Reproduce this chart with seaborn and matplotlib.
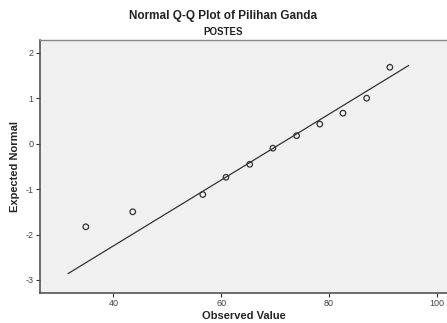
import matplotlib
matplotlib.use("Agg")
import matplotlib.pyplot as plt
import seaborn as sns
import pandas as pd

observed = [34.9, 43.6, 56.6, 60.9, 65.3, 69.6, 74.0, 78.3, 82.6, 87.0, 91.3]
expected = [-1.83, -1.50, -1.12, -0.74, -0.455, -0.10, 0.175, 0.43, 0.67, 1.00, 1.68]
line_x = [31.6, 94.8]
line_y = [-2.86, 1.72]
x_ticks = [40, 60, 80, 100]
y_ticks = [2, 1, 0, -1, -2, -3]

df = pd.DataFrame({"obs": observed, "exp": expected})
ldf = pd.DataFrame({"x": line_x, "y": line_y})

sns.set_theme(style="white")
plt.rcParams['font.family'] = ['Liberation Sans', 'DejaVu Sans']

fig = plt.figure(figsize=(4.47, 3.23), dpi=100)
fig.patch.set_facecolor("white")
ax = fig.add_axes([40/447, 1-292.7/323, 1-40/447, (292.7-40)/323])
ax.set_facecolor("#f0f0f0")

sns.lineplot(data=ldf, x="x", y="y", ax=ax, color="#333333", linewidth=0.9)
sns.scatterplot(data=df, x="obs", y="exp", ax=ax, marker="o", s=16,
                facecolor="none", edgecolor="#333333", linewidth=0.9)

ax.set_xlim(26.4, 101.9)
ax.set_ylim(-3.28, 2.28)
ax.set_xticks(x_ticks)
ax.set_yticks(y_ticks)
ax.set_xticklabels([str(t) for t in x_ticks], fontsize=6.5, color="#444444")
ax.set_yticklabels([str(t) for t in y_ticks], fontsize=6.5, color="#444444")
ax.tick_params(axis="both", length=3, width=0.8, color="#333333", pad=1.5, direction="out")
ax.tick_params(axis="x", bottom=True)
ax.tick_params(axis="y", left=True)

for side in ["left", "bottom"]:
    ax.spines[side].set_color("#555555")
    ax.spines[side].set_linewidth(1.2)
ax.spines["top"].set_color("#888888")
ax.spines["top"].set_linewidth(1.0)
ax.spines["right"].set_visible(False)

ax.set_xlabel("Observed Value", fontsize=8, fontweight="bold", labelpad=2)
ax.set_ylabel("Expected Normal", fontsize=8, fontweight="bold", labelpad=4)

fig.text(0.5, 1-16/323, "Normal Q-Q Plot of Pilihan Ganda", ha="center", va="center",
         fontsize=8.5, fontweight="bold", color="#222222")
fig.text(0.5, 1-32/323, "POSTES", ha="center", va="center",
         fontsize=7, fontweight="bold", color="#222222")

fig.savefig("out.png", dpi=100)
